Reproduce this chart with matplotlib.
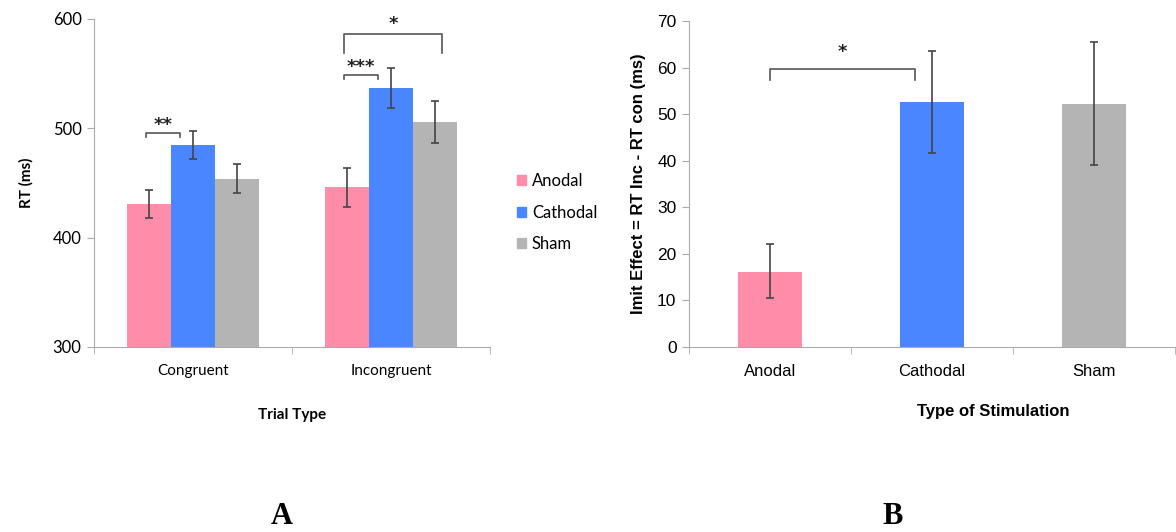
import matplotlib.pyplot as plt
import numpy as np
from matplotlib.patches import Patch

# panel A data
trial_types = ['Congruent', 'Incongruent']
conditions = ['Anodal', 'Cathodal', 'Sham']
rt_anodal = [431, 446]
rt_cathodal = [485, 537]
rt_sham = [454, 506]
err_anodal = [13, 18]
err_cathodal = [13, 18]
err_sham = [13.5, 19]

# panel B data
stim_types = ['Anodal', 'Cathodal', 'Sham']
imit_effect = [16.1, 52.6, 52.2]
imit_err_lo = [5.6, 10.9, 13.1]
imit_err_hi = [6.0, 11.0, 13.3]

colors = ['#FF8CA9', '#4A86FF', '#B4B4B4']
spine_col = '#AAAAAA'
err_col = '#444444'
br_col = '#555555'

fig = plt.figure(figsize=(11.76, 5.32), dpi=100)

# ---------- Panel A ----------
axA = fig.add_axes([94/1176, 1-347/532, 396/1176, 328/532])
x = np.arange(len(trial_types))
w = 0.222
series = [(rt_anodal, err_anodal), (rt_cathodal, err_cathodal), (rt_sham, err_sham)]
for i, (vals, errs) in enumerate(series):
    axA.bar(x + (i-1)*w, vals, w, color=colors[i], yerr=errs, capsize=3,
            error_kw=dict(ecolor=err_col, elinewidth=1.2, capthick=1.2), zorder=2)
axA.set_ylim(300, 600)
axA.set_xlim(-0.5, 1.5)
axA.set_yticks([300, 400, 500, 600])
axA.set_xticks(x)
axA.set_xticklabels(trial_types, fontfamily='Lato', fontsize=11)
axA.set_xticks([-0.5, 0.5, 1.5], minor=True)
axA.tick_params(axis='x', which='major', length=0, pad=12)
axA.tick_params(axis='x', which='minor', length=5, color=spine_col)
axA.tick_params(axis='y', length=5, color=spine_col, labelsize=12, pad=4)
for lab in axA.get_yticklabels():
    lab.set_fontfamily('Lato')
for s in ['top', 'right']:
    axA.spines[s].set_visible(False)
for s in ['left', 'bottom']:
    axA.spines[s].set_color(spine_col)
axA.set_ylabel('RT (ms)', fontfamily='Lato', fontweight='bold', fontsize=11, labelpad=14)
axA.set_xlabel('Trial Type', fontfamily='Lato', fontweight='bold', fontsize=11, labelpad=22)


def bracket(ax, x0, x1, y_top, y_bot, label, ty, fs=13):
    ax.plot([x0, x0, x1, x1], [y_bot, y_top, y_top, y_bot], color=br_col, lw=1.2,
            solid_joinstyle='round', zorder=3)
    ax.text((x0 + x1) / 2, ty, label, ha='center', va='center', fontsize=fs,
            fontweight='bold', color='#222222')


bracket(axA, -0.235, -0.066, 496, 492, '**', 503)
bracket(axA, 0.765, 0.935, 549, 545, '***', 556)
bracket(axA, 0.765, 1.26, 586, 569, '*', 595)

axA.legend(handles=[Patch(color=c) for c in colors], labels=conditions,
           loc='center left', bbox_to_anchor=(1.03, 0.41), frameon=False,
           handlelength=0.55, handleheight=0.55, handletextpad=0.35, labelspacing=0.95,
           prop={'family': 'Lato', 'size': 12})

# ---------- Panel B ----------
axB = fig.add_axes([689/1176, 1-347/532, 486/1176, 326/532])
xb = np.arange(len(stim_types))
axB.bar(xb, imit_effect, 0.4, color=colors, yerr=[imit_err_lo, imit_err_hi], capsize=3,
        error_kw=dict(ecolor=err_col, elinewidth=1.2, capthick=1.2), zorder=2)
axB.set_ylim(0, 70)
axB.set_xlim(-0.5, 2.5)
axB.set_yticks(range(0, 71, 10))
axB.set_xticks(xb)
axB.set_xticklabels(stim_types, fontfamily='Liberation Sans', fontsize=12)
axB.set_xticks([-0.5, 0.5, 1.5, 2.5], minor=True)
axB.tick_params(axis='x', which='major', length=0, pad=12)
axB.tick_params(axis='x', which='minor', length=5, color=spine_col)
axB.tick_params(axis='y', length=5, color=spine_col, labelsize=12.5, pad=4)
for lab in axB.get_yticklabels():
    lab.set_fontfamily('Liberation Sans')
for s in ['top', 'right']:
    axB.spines[s].set_visible(False)
for s in ['left', 'bottom']:
    axB.spines[s].set_color(spine_col)
axB.set_ylabel('Imit Effect = RT Inc - RT con (ms)', fontfamily='Liberation Sans',
               fontweight='bold', fontsize=12, labelpad=8)
axB.set_xlabel('Type of Stimulation', fontfamily='Liberation Sans', fontweight='bold',
               fontsize=12, labelpad=22)
axB.xaxis.set_label_coords(0.626, -0.175)

bracket(axB, 0.0, 0.895, 59.7, 57.3, '*', 63.3)

# panel letters
fig.text(282/1176, 1-516/532, 'A', ha='center', va='center', fontsize=22,
         fontfamily='Liberation Serif', fontweight='bold')
fig.text(893/1176, 1-516/532, 'B', ha='center', va='center', fontsize=22,
         fontfamily='Liberation Serif', fontweight='bold')

fig.savefig('out.png', dpi=100)
